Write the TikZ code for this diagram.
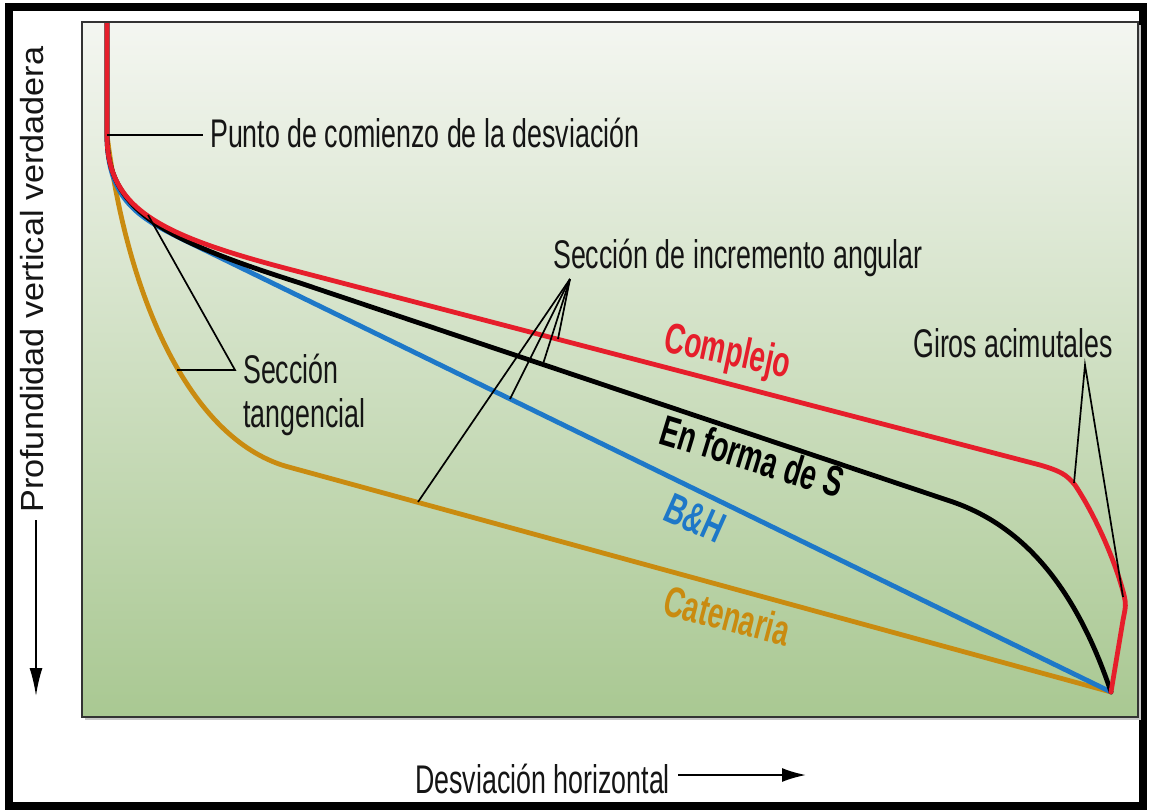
\documentclass[tikz,border=0pt]{standalone}
\usepackage{fontspec}
\usepackage{graphicx}
\setmainfont{Liberation Sans}
\usetikzlibrary{arrows.meta}
\definecolor{cred}{HTML}{E61E2B}
\definecolor{cblue}{HTML}{1E78C8}
\definecolor{cgold}{HTML}{C98B10}
\definecolor{bgtop}{HTML}{F4F6F1}
\definecolor{bgmid}{HTML}{CFE0C3}
\definecolor{bgbot}{HTML}{A9C892}
\definecolor{txt}{HTML}{151515}
\newcommand\cn[1]{\scalebox{0.67}[1]{#1}}
\newcommand\cb[1]{\scalebox{0.655}[1]{#1}}
\tikzset{
  curve/.style={line width=4.8pt, line cap=round, line join=round},
  leader/.style={line width=1.7pt, black},
  lbl/.style={inner sep=0pt, text=txt, font=\fontsize{40}{44}\selectfont},
  blbl/.style={inner sep=0pt, font=\fontsize{43}{47}\selectfont\bfseries},
  axisarrow/.style={line width=2pt, black}
}
\begin{document}
\begin{tikzpicture}[x=1pt,y=-1pt]
\useasboundingbox (0,0) rectangle (1150,811);
\fill[white] (0,0) rectangle (1150,811);
\draw[line width=8pt] (9,7) rectangle (1143,806);
% plot area
\fill[black!22] (85,25) rectangle (1141,720);
\shade[top color=bgtop, middle color=bgmid, bottom color=bgbot] (82,22) rectangle (1138,717);

% shared points
\coordinate (top) at (107,18);
\coordinate (kop) at (107,135);
\coordinate (end) at (1111,692);

% curves
\begin{scope}
\clip (82,22) rectangle (1138,717);
\draw[curve, cgold] (top) -- (kop) .. controls (128,300) and (190,437) .. (285,466) -- (end);
\draw[curve, cblue] (top) -- (kop) .. controls (107,200) and (140,218) .. (180,238) -- (end);
\draw[curve, black] (top) -- (kop) .. controls (107,212) and (165,240) .. (300,283) -- (950,501)
   .. controls (1010,521) and (1070,570) .. (end);
\draw[curve, cred] (top) -- (kop) .. controls (107,210) and (160,236) .. (300,272) -- (1040,465)
   .. controls (1060,471) and (1066,474) .. (1075,485)
   .. controls (1095,515) and (1115,560) .. (1124,595)
   .. controls (1126,605) .. (1123,620) -- (end);
\end{scope}
\draw[line width=2pt, black!80] (82,22) rectangle (1138,717);

% points on curves for leaders
\coordinate (r1) at (558,339);
\coordinate (k1) at (543,364);
\coordinate (b1) at (510,399);
\coordinate (g1) at (418,502);
\coordinate (ap1) at (570,279);
\coordinate (tapex) at (235,370);
\coordinate (tk) at (148,215);
\coordinate (tg) at (177,370);
\coordinate (gapex) at (1085,365);
\coordinate (gr1) at (1074,483);
\coordinate (gr2) at (1123,597);
\coordinate (kopl) at (203,135);

% labels
\node[lbl, anchor=base west] (punto) at (210,147) {\cn{Punto de comienzo de la desviación}};
\node[lbl, anchor=base west] (inc) at (553,268) {\cn{Sección de incremento angular}};
\node[lbl, anchor=base west] (sec) at (243,383) {\cn{Sección}};
\node[lbl, anchor=base west] (tan) at (243,427) {\cn{tangencial}};
\node[lbl, anchor=base west] (giros) at (913,357) {\cn{Giros acimutales}};
\node[lbl, anchor=base west] (xlab) at (415,793) {\cn{Desviación horizontal}};
\node[inner sep=0pt, text=txt, font=\fontsize{32}{36}\selectfont, rotate=90, anchor=base west] (ylab) at (43,513) {\scalebox{1.07}[1]{Profundidad vertical verdadera}};

\node[blbl, text=cred, rotate=-12, anchor=base west] (compl) at (662,351) {\cb{Complejo}};
\node[blbl, text=black, rotate=-17, anchor=base west] (forma) at (657,443) {\cb{En forma de S}};
\node[blbl, text=cblue, rotate=-24, anchor=base west] (bh) at (661,519) {\cb{B\&H}};
\node[blbl, text=cgold, rotate=-14.6, anchor=base west] (cat) at (661,614) {\cb{Catenaria}};

% leaders
\draw[leader] (kop) -- (kopl);
\draw[leader] (ap1) -- (r1);
\draw[leader] (ap1) -- (k1);
\draw[leader] (ap1) -- (b1);
\draw[leader] (ap1) -- (g1);
\draw[leader] (tk) -- (tapex) -- (tg);
\draw[leader] (gr1) -- (gapex) -- (gr2);

% axis arrows
\coordinate (xa) at (678,775);
\coordinate (xb) at (806,775);
\draw[axisarrow, -{Latex[length=24pt,width=14pt]}] (xa) -- (xb);
\coordinate (ya) at (36,520);
\coordinate (yb) at (36,696);
\draw[axisarrow, -{Latex[length=28pt,width=13pt]}] (ya) -- (yb);
\end{tikzpicture}
\end{document}
